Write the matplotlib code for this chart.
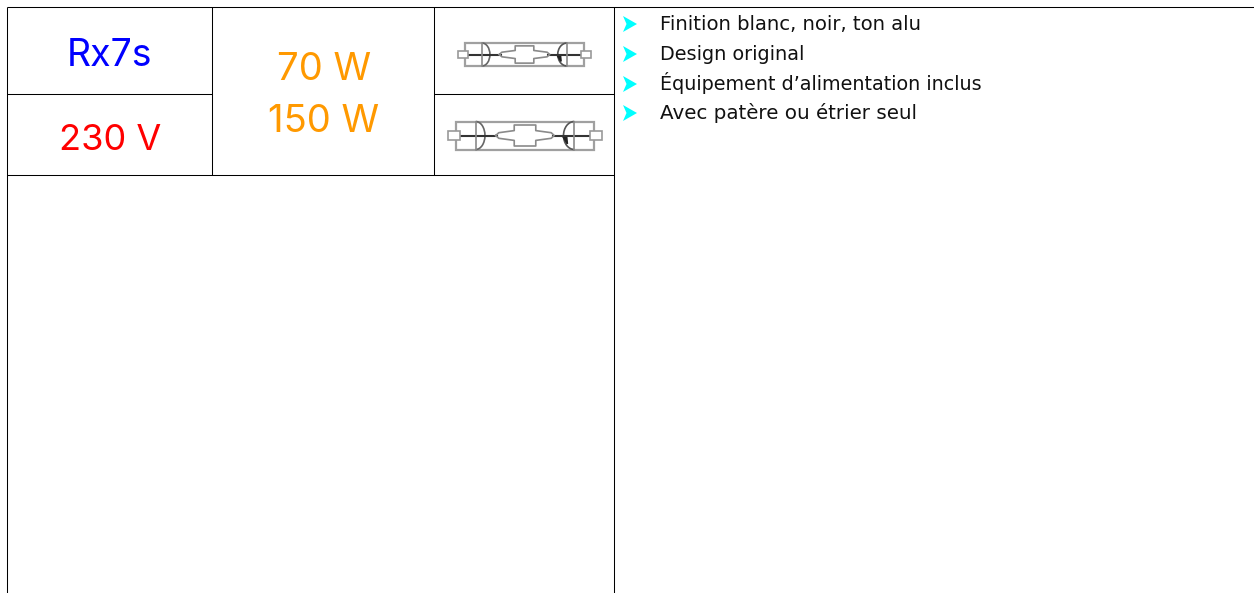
import matplotlib
matplotlib.use("Agg")
import matplotlib.pyplot as plt
from matplotlib.patches import Polygon, Rectangle, Arc

W, H = 1254, 593
big_font = "Inter"
small_font = "DejaVu Sans"

# text content
cell_labels = ["Rx7s", "230 V", "70 W", "150 W"]
cell_colors = ["#0000ff", "#ff0000", "#ff9900", "#ff9900"]
cell_x = [110, 110, 324.5, 323.5]
cell_base = [66, 150, 80, 132]
cell_size = [27, 26, 27.5, 27.5]
bullets = ["Finition blanc, noir, ton alu", "Design original",
           "Équipement d’alimentation inclus", "Avec patère ou étrier seul"]
bullet_y = [24, 54, 84, 113]
bullet_base = [30, 60, 90, 119]
bullet_size = [14.1, 13.9, 13.75, 14.3]

# grid lines: (x0, x1, y) and (x, y0, y1); the wattage cell spans both rows
h_lines = [(7, W, 7.2), (7, 212, 94.2), (434, 614, 94.2), (7, 614, 175.2)]
v_lines = [(7.2, 7, H), (212.2, 7, 175), (434.2, 7, 175), (614.2, 7, H)]

# lamp symbols: x0, x1, y centre, half height
lamps = [(458, 591, 54.5, 11.5), (448, 602, 135.5, 14)]

fig = plt.figure(figsize=(W / 100, H / 100), dpi=100)
ax = fig.add_axes([0, 0, 1, 1])
ax.set_xlim(0, W)
ax.set_ylim(H, 0)
ax.axis("off")

for x0, x1, y in h_lines:
    ax.plot([x0, x1], [y, y], color="black", lw=0.75, solid_capstyle="butt")
for x, y0, y1 in v_lines:
    ax.plot([x, x], [y0, y1], color="black", lw=0.75, solid_capstyle="butt")

for s, c, x, y, fs in zip(cell_labels, cell_colors, cell_x, cell_base, cell_size):
    ax.text(x, y, s, color=c, fontsize=fs, family=big_font, ha="center", va="baseline")

for s, y, b, fs in zip(bullets, bullet_y, bullet_base, bullet_size):
    ax.add_patch(Polygon([(623, y - 8), (637, y), (623, y + 8), (626.5, y)],
                         closed=True, fc="#00ffff", ec="none"))
    ax.text(660, b, s, color="#111111", fontsize=fs, family=small_font,
            ha="left", va="baseline")


def draw_lamp(x0, x1, yc, hh):
    w = x1 - x0
    X = lambda u: x0 + u * w
    Y = lambda v: yc + v * hh
    grey = dict(color="#8a8a8a", lw=1.2)
    dark = dict(color="#333333", lw=1.5)
    # outer envelope
    ax.add_patch(Rectangle((X(0.05), Y(-1)), 0.9 * w, 2 * hh, fc="none", ec="#a0a0a0", lw=1.6))
    # electrodes
    ax.plot([X(0.07), X(0.32)], [yc, yc], **dark)
    ax.plot([X(0.68), X(0.93)], [yc, yc], **dark)
    # caps
    for u in (0.0, 0.925):
        ax.add_patch(Rectangle((X(u), Y(-0.3)), 0.075 * w, 0.6 * hh, fc="white", ec="#999999", lw=1.2, zorder=3))
    # central burner
    us = [0.31, 0.33, 0.43, 0.43, 0.57, 0.57, 0.67, 0.69, 0.67, 0.57, 0.57, 0.43, 0.43, 0.33, 0.31]
    vs = [0, -0.2, -0.35, -0.75, -0.75, -0.35, -0.2, 0, 0.2, 0.35, 0.75, 0.75, 0.35, 0.2, 0]
    ax.plot([X(u) for u in us], [Y(v) for v in vs], **grey)
    # domes
    ax.add_patch(Arc((X(0.18), yc), 0.12 * w, 2 * hh, theta1=-90, theta2=90, ec="#666666", lw=1.2))
    ax.add_patch(Arc((X(0.82), yc), 0.14 * w, 2 * hh, theta1=90, theta2=270, ec="#555555", lw=1.2))
    ax.plot([X(0.18), X(0.18)], [Y(-1), Y(1)], **grey)
    ax.plot([X(0.82), X(0.82)], [Y(-1), Y(1)], **grey)
    ax.add_patch(Polygon([(X(0.745), Y(0.05)), (X(0.775), Y(0.6)), (X(0.77), Y(0.05))],
                         fc="#222222", ec="#222222", lw=1.2))


for lamp in lamps:
    draw_lamp(*lamp)

fig.savefig("out.png", dpi=100, facecolor="white")
